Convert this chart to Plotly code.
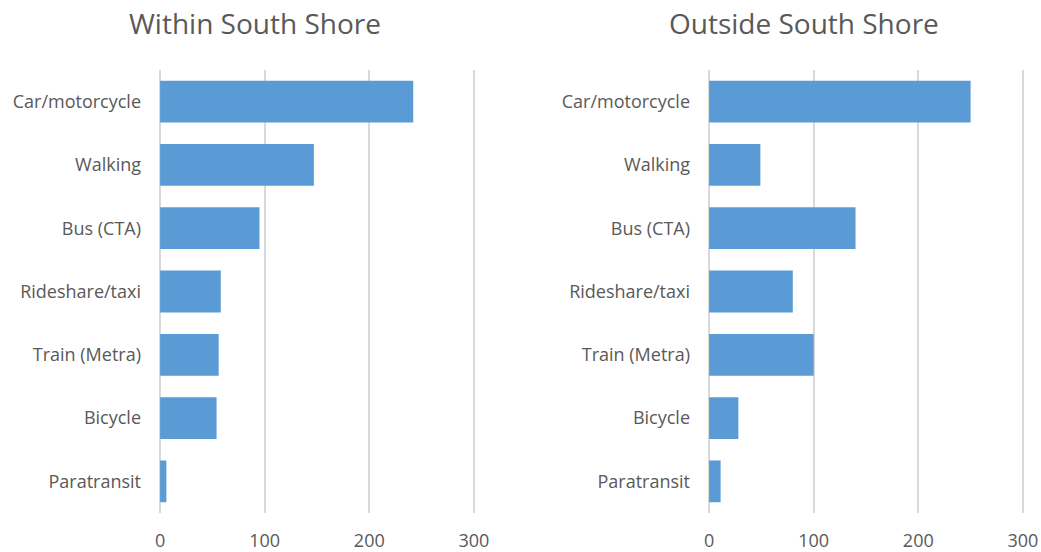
import plotly.graph_objects as go

categories = ["Car/motorcycle", "Walking", "Bus (CTA)", "Rideshare/taxi",
              "Train (Metra)", "Bicycle", "Paratransit"]
within_values = [242, 147, 95, 58, 56, 54, 6]
outside_values = [250, 49, 140, 80, 100, 28, 11]
x_ticks = [0, 100, 200, 300]
titles = ["Within South Shore", "Outside South Shore"]

bar_color = "#5B9BD5"
text_color = "#595959"
grid_color = "#D9D9D9"
font_family = "Open Sans"

fig = go.Figure()
fig.add_trace(go.Bar(y=categories, x=within_values, orientation="h",
                     marker=dict(color=bar_color, line=dict(width=0)),
                     width=0.66, xaxis="x", yaxis="y", showlegend=False))
fig.add_trace(go.Bar(y=categories, x=outside_values, orientation="h",
                     marker=dict(color=bar_color, line=dict(width=0)),
                     width=0.66, xaxis="x2", yaxis="y2", showlegend=False))

W, H = 1041, 552
ml, mr, mt, mb = 0, 0, 70, 39
pw = W - ml - mr
d1 = [158 / pw, 476 / pw]
d2 = [707 / pw, 1025 / pw]

xcommon = dict(range=[-2, 302], tickvals=x_ticks, showgrid=True, gridcolor=grid_color,
               gridwidth=1.5, zeroline=False, showline=False, ticks="",
               tickfont=dict(size=18, color=text_color, family=font_family),
               ticklabelstandoff=15, fixedrange=True, automargin=False)
ycommon = dict(categoryorder="array", categoryarray=categories[::-1], showgrid=False,
               zeroline=False, showline=False, ticks="",
               tickfont=dict(size=18, color=text_color, family=font_family),
               ticklabelstandoff=16, range=[-0.5, 6.5], automargin=False,
               fixedrange=True)

fig.update_layout(
    width=W, height=H,
    margin=dict(l=ml, r=mr, t=mt, b=mb),
    paper_bgcolor="white", plot_bgcolor="white",
    xaxis=dict(domain=d1, anchor="y", **xcommon),
    yaxis=dict(anchor="x", **ycommon),
    xaxis2=dict(domain=d2, anchor="y2", **xcommon),
    yaxis2=dict(anchor="x2", **ycommon),
    font=dict(family=font_family, color=text_color),
    bargap=0.34,
)

ph = H - mt - mb
for title, cx in zip(titles, [255, 804]):
    fig.add_annotation(text=title, x=cx / pw, xref="paper",
                       y=1 + (mt - 23) / ph, yref="paper", showarrow=False,
                       xanchor="center", yanchor="middle",
                       font=dict(size=28, color=text_color, family=font_family))

fig.write_html(
    "out.html",
    config={"displayModeBar": False},
    post_script="document.body.style.margin='0';document.body.style.overflow='hidden';",
)
